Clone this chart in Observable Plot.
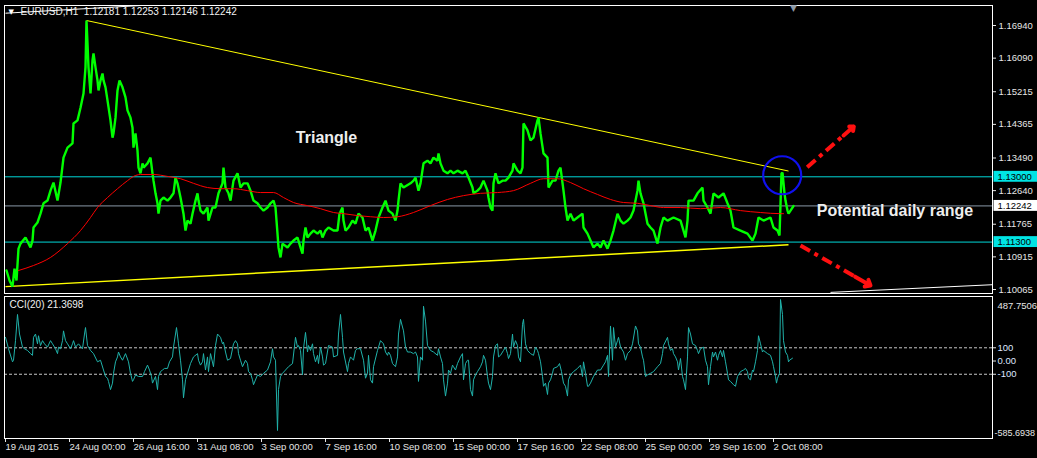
<!DOCTYPE html>
<html><head><meta charset="utf-8">
<script src="https://cdn.jsdelivr.net/npm/d3@7"></script>
<script src="https://cdn.jsdelivr.net/npm/@observablehq/plot@0.6"></script>
<style>
html,body{margin:0;padding:0;background:#000;}
#chart{position:relative;width:1037px;height:458px;background:#000;overflow:hidden;}
#chart svg{position:absolute;left:0;}
</style></head><body><div id="chart"></div>
<script>
// ---------- DATA (bar index = hourly bars from 19 Aug 2015) ----------
const priceIdx = [1,4,7,9,11,13,15,20,25,27,28,32,35,38,42,45,48,52,55,58,62,67,68,72,75,78,80,81,82,83,85,87,88,90,92,93,95,97,98,100,102,105,107,108,110,112,114,117,120,122,125,127,128,130,132,133,135,137,138,142,145,147,148,150,152,153,155,158,162,165,168,170,172,175,178,180,182,185,187,190,192,193,195,198,202,203,207,210,213,217,218,220,223,225,228,232,235,238,242,245,248,252,255,258,262,265,268,270,272,273,275,277,282,285,288,292,295,297,298,300,302,305,308,312,315,317,320,323,328,332,334,337,338,340,343,347,350,353,357,360,363,367,370,373,377,380,383,387,390,392,393,395,398,405,408,410,413,415,418,422,425,428,432,433,435,438,442,445,448,452,457,460,463,467,468,472,475,478,482,483,485,487,488,490,493,497,500,503,507,508,512,515,517,518,522,525,528,532,533,535,538,542,543,547,550,553,555,558,560,562,565,568,572,577,578,582,585,588,592,595,598,602,605,608,612,615,618,622,625,628,632,633,635,638,642,645,648,652,655,658,662,668,675,678,680,682,683,688,692,697,698,702,705,708,713,718,722,725,728,735,742,747,750,753,758,765,768,772,774,776,777,779,780,782,783,785,788];
const priceVal = [1.1056,1.1030,1.1014,1.1061,1.1030,1.1113,1.1126,1.1142,1.1116,1.1134,1.1168,1.1181,1.1204,1.1231,1.1238,1.1264,1.1285,1.1238,1.1285,1.1350,1.1376,1.1387,1.1439,1.1447,1.1480,1.1517,1.1585,1.1707,1.1647,1.1585,1.1517,1.1603,1.1621,1.1585,1.1551,1.1525,1.1551,1.1569,1.1551,1.1533,1.1499,1.1447,1.1402,1.1413,1.1454,1.1525,1.1551,1.1533,1.1507,1.1473,1.1454,1.1428,1.1376,1.1413,1.1368,1.1324,1.1309,1.1335,1.1324,1.1335,1.1350,1.1309,1.1290,1.1257,1.1231,1.1204,1.1238,1.1246,1.1238,1.1246,1.1257,1.1298,1.1283,1.1246,1.1204,1.1160,1.1186,1.1178,1.1204,1.1238,1.1257,1.1238,1.1212,1.1204,1.1220,1.1186,1.1220,1.1220,1.1257,1.1283,1.1324,1.1272,1.1257,1.1238,1.1290,1.1309,1.1272,1.1283,1.1283,1.1264,1.1238,1.1231,1.1220,1.1212,1.1220,1.1231,1.1238,1.1220,1.1152,1.1116,1.1090,1.1126,1.1116,1.1126,1.1134,1.1142,1.1116,1.1100,1.1134,1.1168,1.1142,1.1152,1.1160,1.1152,1.1160,1.1142,1.1160,1.1168,1.1160,1.1160,1.1204,1.1220,1.1186,1.1160,1.1168,1.1186,1.1178,1.1204,1.1194,1.1160,1.1168,1.1134,1.1160,1.1194,1.1220,1.1238,1.1212,1.1204,1.1186,1.1212,1.1238,1.1283,1.1272,1.1283,1.1290,1.1298,1.1264,1.1283,1.1335,1.1342,1.1335,1.1350,1.1342,1.1361,1.1335,1.1316,1.1309,1.1316,1.1309,1.1316,1.1309,1.1316,1.1298,1.1272,1.1257,1.1264,1.1272,1.1290,1.1264,1.1246,1.1220,1.1212,1.1283,1.1309,1.1283,1.1290,1.1290,1.1298,1.1316,1.1335,1.1316,1.1309,1.1324,1.1439,1.1421,1.1395,1.1402,1.1447,1.1454,1.1413,1.1361,1.1350,1.1272,1.1290,1.1290,1.1316,1.1324,1.1264,1.1220,1.1186,1.1204,1.1186,1.1194,1.1204,1.1168,1.1152,1.1134,1.1116,1.1126,1.1116,1.1134,1.1113,1.1134,1.1160,1.1204,1.1186,1.1178,1.1186,1.1194,1.1212,1.1264,1.1290,1.1257,1.1231,1.1178,1.1168,1.1160,1.1126,1.1168,1.1194,1.1186,1.1194,1.1186,1.1160,1.1142,1.1186,1.1238,1.1238,1.1257,1.1272,1.1238,1.1220,1.1204,1.1257,1.1246,1.1257,1.1231,1.1212,1.1168,1.1160,1.1152,1.1134,1.1152,1.1194,1.1186,1.1194,1.1168,1.1160,1.1147,1.1309,1.1311,1.1257,1.1238,1.1212,1.1204,1.1212,1.1224];

const maIdx = [13,28,45,62,75,85,92,102,112,122,128,135,148,162,175,188,202,215,228,242,255,268,278,288,302,315,328,338,352,365,378,392,408,425,442,458,475,492,508,525,538,552,565,578,592,605,618,632,645,658,675,695,715,735,755,775,778];
const maVal = [1.1056,1.1069,1.1090,1.1126,1.1160,1.1194,1.1220,1.1246,1.1269,1.1290,1.1301,1.1306,1.1306,1.1301,1.1295,1.1283,1.1272,1.1269,1.1269,1.1264,1.1259,1.1259,1.1246,1.1233,1.1225,1.1217,1.1207,1.1204,1.1199,1.1196,1.1194,1.1196,1.1207,1.1225,1.1241,1.1251,1.1257,1.1259,1.1264,1.1283,1.1295,1.1295,1.1285,1.1269,1.1254,1.1241,1.1233,1.1231,1.1225,1.1220,1.1220,1.1217,1.1220,1.1212,1.1207,1.1204,1.1204];

const cciIdx = [0,3,7,8,10,12,14,17,19,22,25,27,28,30,32,33,35,37,39,42,45,47,50,52,53,55,57,58,60,62,65,67,68,70,73,77,79,80,82,85,88,92,95,98,100,102,103,105,107,108,110,112,113,115,117,120,123,125,127,128,130,133,137,139,142,144,146,147,150,152,153,155,157,159,162,164,167,168,171,173,175,177,178,180,182,185,188,192,193,195,197,198,200,202,203,205,208,210,212,215,217,218,220,222,225,228,230,232,233,235,237,240,242,243,245,247,248,252,255,258,262,265,267,268,270,272,273,275,277,280,283,287,290,292,293,295,297,298,300,302,303,305,307,308,310,312,313,315,317,318,320,323,327,328,332,333,335,337,338,342,343,345,348,350,352,355,358,360,362,363,365,367,368,372,375,378,380,382,383,385,387,390,392,393,395,398,400,402,405,408,410,412,413,415,417,418,420,422,425,428,432,433,435,437,438,440,442,443,445,447,448,450,452,455,457,458,460,462,463,465,467,468,470,472,475,477,478,480,482,483,485,487,488,490,492,493,495,498,500,502,503,505,507,508,510,512,513,515,517,518,520,522,525,528,530,532,533,535,537,538,540,542,543,545,547,548,552,554,556,558,560,562,563,565,568,572,575,577,578,580,582,583,585,588,592,595,598,600,602,603,605,607,608,610,612,613,615,618,620,622,625,627,630,632,633,635,637,638,640,642,645,648,652,655,657,658,662,663,665,667,668,670,672,673,675,677,678,680,682,683,685,687,690,692,693,695,698,700,702,703,705,707,708,710,712,713,715,717,718,720,722,723,725,728,730,732,735,738,740,742,743,745,747,748,750,752,753,755,757,758,762,765,767,768,770,771,772,774,775,777,778,780,782,783,784,787];
const cciVal = [179,93,-6,6,154,352,204,105,93,80,56,43,179,204,130,191,117,154,130,105,154,130,93,56,105,93,154,228,154,130,93,130,154,105,130,93,204,253,117,80,56,-6,6,-68,-117,-130,-154,-216,-167,-93,-6,31,68,31,6,56,-6,-93,-154,-142,-105,-117,-117,-80,-31,-68,-117,-167,-117,-216,-117,-80,-68,-56,-56,-6,31,105,253,130,6,-142,-278,-142,-93,-19,31,56,6,-31,-6,56,-68,31,-80,56,-43,117,204,179,130,142,68,6,19,130,154,130,56,6,-43,6,-19,-80,-93,-142,-179,-105,-117,-93,-68,-6,93,31,6,-525,-216,-117,-93,-68,-43,-19,179,105,117,80,-105,93,216,68,117,80,130,56,-6,43,-19,105,31,-31,-19,117,105,31,43,204,352,179,68,-80,-19,31,6,80,93,93,6,-130,-93,43,-142,-167,-43,80,154,130,68,43,68,43,-19,-43,31,204,315,228,105,68,68,56,68,31,-154,31,6,414,302,117,80,68,43,93,31,-19,-142,-265,-167,-68,-93,-31,-43,-68,-19,31,56,-142,-19,6,6,-216,-265,-142,-105,-80,-43,-6,43,6,-117,-167,-216,-117,31,117,130,31,43,80,105,56,19,56,204,105,154,117,31,-6,278,315,130,80,56,43,105,80,56,-6,-117,-191,-167,-253,-167,-142,-93,-56,-43,-19,-80,-167,-191,-265,-142,-105,-80,-56,-31,-117,-6,-93,-191,-191,-167,-117,-68,-68,-31,-6,43,-117,265,6,253,105,154,179,105,68,6,56,80,130,265,228,130,105,31,6,-117,-105,-93,-80,-43,-19,56,117,179,130,80,93,56,31,-6,-68,19,-117,-142,-216,31,253,204,130,117,80,56,93,105,6,-43,-179,-43,68,31,68,6,43,80,31,80,-6,-93,-142,-154,-179,-191,-117,-80,-68,-56,-80,-130,-142,-68,-80,-6,80,191,130,68,80,56,43,-6,-43,-117,-167,-130,-93,465,352,154,68,43,-6,6,21.37];

const yTicks = [1.16940, 1.16090, 1.15215, 1.14365, 1.13490, 1.12640, 1.11765, 1.10915, 1.10065];
const levelLines = [1.13000, 1.11300];
const lastPrice = 1.12242;
const cciMax = 487.7506, cciMin = -585.6938;
const cciLevels = [100, -100];
const xTickIdx = [0,64,128,192,256,320,384,448,512,576,640,704,768];
const xLabels = ["19 Aug 2015","24 Aug 00:00","26 Aug 16:00","31 Aug 08:00","3 Sep 00:00","7 Sep 16:00","10 Sep 08:00","15 Sep 00:00","17 Sep 16:00","22 Sep 08:00","25 Sep 00:00","29 Sep 16:00","2 Oct 08:00"];
const headerText = "EURUSD,H1\u00a0\u00a01.12181 1.12253 1.12146 1.12242";
const cciHeader = "CCI(20) 21.3698";
// trend lines (bar index, price)
const trendLines = [
  {x1: 81, y1: 1.1707, x2: 783, y2: 1.1315, stroke: "#ffff00", w: 1},
  {x1: 0, y1: 1.1014, x2: 783, y2: 1.1123, stroke: "#ffff00", w: 1.5}
];
const whiteLines = [
  {x1: 825, y1: 1.0999, x2: 987, y2: 1.1019},
  {x1: 0, y1: 1.1726, x2: 135, y2: 1.1746}
];
const arrows = [
  {x1: 801.7, y1: 1.1325, x2: 848.3, y2: 1.1431},
  {x1: 795, y1: 1.1121, x2: 865, y2: 1.1017}
];
const circleAt = {x: 776.7, y: 1.1304};
const notes = [
  {x: 321, y: 1.1402, text: "Triangle"},
  {x: 889.5, y: 1.1212, text: "Potential daily range"}
];

// ---------- BUILD ----------
const price = priceIdx.map((x, i) => ({x, y: priceVal[i]}));
const ma = maIdx.map((x, i) => ({x, y: maVal[i]}));
const cci = cciIdx.map((x, i) => ({x, y: cciVal[i]}));
const lerp = (a, b, t) => a + (b - a) * t;
const FONT = "'Liberation Sans', Arial, sans-serif";
const W = 1037;
const xDomain = [-1, 987];
const boxes = [
  {v: levelLines[0], bg: "#00e4e4"},
  {v: lastPrice, bg: "#ffffff"},
  {v: levelLines[1], bg: "#00e4e4"}
];

const mainPlot = Plot.plot({
  width: W, height: 296,
  marginLeft: 4, marginRight: 45, marginTop: 5, marginBottom: 3,
  style: {background: "transparent", color: "#e6e6e6", fontSize: "9.5px", fontFamily: FONT, overflow: "visible"},
  x: {domain: xDomain, axis: null},
  y: {domain: [1.09961, 1.17461], axis: null},
  marks: [
    Plot.ruleY(levelLines, {stroke: "#00d8d8", strokeWidth: 1}),
    Plot.ruleY([lastPrice], {stroke: "#8a98a8", strokeWidth: 1}),
    Plot.link(trendLines, {x1: "x1", y1: "y1", x2: "x2", y2: "y2", stroke: "stroke", strokeWidth: d => d.w}),
    Plot.line(price, {x: "x", y: "y", stroke: "#00ff00", strokeWidth: 2.4, strokeLinejoin: "miter"}),
    Plot.line(ma, {x: "x", y: "y", stroke: "#ff0000", strokeWidth: 1, curve: "monotone-x"}),
    Plot.link(whiteLines, {x1: "x1", y1: "y1", x2: "x2", y2: "y2", stroke: "#ffffff", strokeWidth: 1, clip: true}),
    Plot.dot([circleAt], {x: "x", y: "y", r: 19, stroke: "#1010ee", strokeWidth: 2.2, fill: "none"}),
    Plot.link(arrows, {x1: "x1", y1: "y1", x2: d => lerp(d.x1, d.x2, 0.8), y2: d => lerp(d.y1, d.y2, 0.8),
      stroke: "#ff1010", strokeWidth: 4, strokeDasharray: "11,5,4,5"}),
    Plot.arrow(arrows, {x1: d => lerp(d.x1, d.x2, 0.78), y1: d => lerp(d.y1, d.y2, 0.78), x2: "x2", y2: "y2",
      stroke: "#ff1010", strokeWidth: 4, headLength: 12, headAngle: 80}),
    Plot.text(notes, {x: "x", y: "y", text: "text", fill: "#eeeeee", fontSize: 16, fontWeight: "bold", fontFamily: FONT}),
    Plot.axisY({anchor: "right", label: null, ticks: yTicks, tickFormat: d3.format(".5f"), tickSize: 3, tickPadding: 3, fill: "#e6e6e6", stroke: "#e6e6e6"}),
    Plot.rect(boxes, {x1: () => 988.5, x2: () => 1033, y1: d => d.v - 0.00142, y2: d => d.v + 0.00142, fill: "bg"}),
    Plot.text(boxes, {y: "v", text: d => d.v.toFixed(5), frameAnchor: "right", dx: 5, textAnchor: "start", fill: "#000"}),
    Plot.frame({stroke: "#ffffff", strokeWidth: 1}),
    Plot.text([headerText], {frameAnchor: "top-left", dx: 16, dy: 2, lineAnchor: "top", textAnchor: "start", fill: "#f0f0f0", fontSize: 10}),
    Plot.text(["\u25BC"], {frameAnchor: "top-left", dx: 4, dy: 4, lineAnchor: "top", textAnchor: "start", fill: "#ffffff", fontSize: 7, fontFamily: "'DejaVu Sans'"}),
    Plot.text([priceIdx[priceIdx.length - 1]], {x: d => d, frameAnchor: "top", text: () => "\u25BC", lineAnchor: "top", dy: -1, fill: "#8d9aa8", fontSize: 9, fontFamily: "'DejaVu Sans'"})
  ]
});

const cciPlot = Plot.plot({
  width: W, height: 164,
  marginLeft: 4, marginRight: 45, marginTop: 2, marginBottom: 20,
  style: {background: "transparent", color: "#e6e6e6", fontSize: "9.5px", fontFamily: FONT, overflow: "visible"},
  x: {domain: xDomain, axis: null},
  y: {domain: [cciMin, cciMax], axis: null},
  marks: [
    Plot.ruleY(cciLevels, {stroke: "#c8c8c8", strokeDasharray: "3,2", strokeWidth: 1}),
    Plot.line(cci, {x: "x", y: "y", stroke: "#20b2aa", strokeWidth: 1}),
    Plot.axisY({anchor: "right", label: null, ticks: [100, 0, -100], tickFormat: d => d === 0 ? "0.00" : String(d), tickSize: 3, tickPadding: 2, fill: "#dfe6ff", stroke: "#e6e6e6"}),
    Plot.text([cciMax], {y: d => d, text: d => d.toFixed(4), frameAnchor: "right", dx: 5, dy: 9, textAnchor: "start", fill: "#e6e6e6"}),
    Plot.text([cciMin], {y: d => d, text: d => d.toFixed(4), frameAnchor: "right", dx: 2, dy: -5, textAnchor: "start", fill: "#e6e6e6", fontSize: 9}),
    Plot.axisX({anchor: "bottom", label: null, ticks: xTickIdx, tickFormat: d => xLabels[xTickIdx.indexOf(d)], tickSize: 4, tickPadding: 1, textAnchor: "start", dx: 0, fill: "#e6e6e6", stroke: "#e6e6e6"}),
    Plot.frame({stroke: "#ffffff", strokeWidth: 1}),
    Plot.text([cciHeader], {frameAnchor: "top-left", dx: 5, dy: 4, lineAnchor: "top", textAnchor: "start", fill: "#f0f0f0", fontSize: 10})
  ]
});

const host = document.getElementById("chart");
mainPlot.style.top = "0px";
cciPlot.style.top = "294px";
host.appendChild(mainPlot);
host.appendChild(cciPlot);
</script>
</body></html>
